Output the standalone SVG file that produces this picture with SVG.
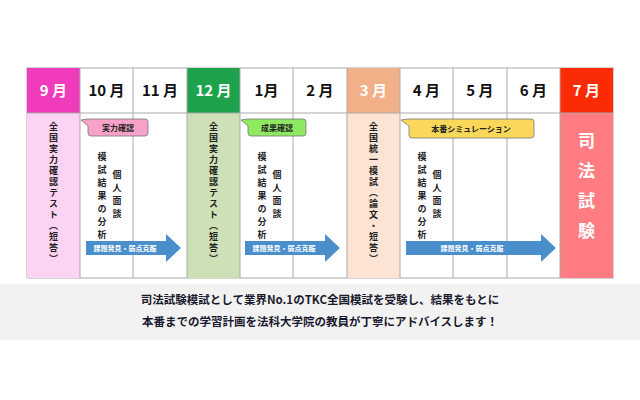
<svg xmlns="http://www.w3.org/2000/svg" width="640" height="400" viewBox="0 0 640 400">
<style>
text{font-family:"Noto Sans CJK JP","Noto Sans",sans-serif;font-weight:bold}
.h{font-size:15px;fill:#111;text-anchor:middle}
.hw{font-size:15px;fill:#fff;text-anchor:middle}
.v{font-size:9px;fill:#222;writing-mode:vertical-rl;text-orientation:upright;letter-spacing:2px}
.v2{font-size:9px;fill:#222;writing-mode:vertical-rl;text-orientation:upright;letter-spacing:4px}
.c{font-size:8px;fill:#222;text-anchor:middle}
.a{font-size:7px;fill:#fff;text-anchor:middle}
.line{stroke:#aaa;stroke-width:1}
.arrow{fill:#4a8fcc}
</style>
<rect width="640" height="400" fill="#fff"/>
<g id="columns">
<rect x="27" y="68" width="586" height="210" fill="#fff" stroke="#aaa"/>
<rect x="27" y="68" width="53" height="45" fill="#f03cbc"/><rect x="27" y="113" width="53" height="165" fill="#fdd3f4"/>
<rect x="187" y="68" width="53" height="45" fill="#1ea24c"/><rect x="187" y="113" width="53" height="165" fill="#cde0b6"/>
<rect x="347" y="68" width="53" height="45" fill="#f2b088"/><rect x="347" y="113" width="53" height="165" fill="#fde3d4"/>
<rect x="560" y="68" width="53" height="45" fill="#fb2b05"/><rect x="560" y="113" width="53" height="165" fill="#fe7c82"/>
<g class="line">
<line x1="27" y1="113" x2="613" y2="113"/>
<line x1="80" y1="68" x2="80" y2="278"/><line x1="133" y1="68" x2="133" y2="278"/><line x1="187" y1="68" x2="187" y2="278"/>
<line x1="240" y1="68" x2="240" y2="278"/><line x1="293" y1="68" x2="293" y2="278"/><line x1="347" y1="68" x2="347" y2="278"/>
<line x1="400" y1="68" x2="400" y2="278"/><line x1="453" y1="68" x2="453" y2="278"/><line x1="507" y1="68" x2="507" y2="278"/>
<line x1="560" y1="68" x2="560" y2="278"/>
</g>
<text class="hw" x="53.5" y="96">9 月</text>
<text class="h" x="106.5" y="96">10 月</text>
<text class="h" x="160" y="96">11 月</text>
<text class="hw" x="213.5" y="96">12 月</text>
<text class="h" x="266.5" y="96">1月</text>
<text class="h" x="320" y="96">2 月</text>
<text class="hw" x="373.5" y="96">3 月</text>
<text class="h" x="426.5" y="96">4 月</text>
<text class="h" x="480" y="96">5 月</text>
<text class="h" x="533.5" y="96">6 月</text>
<text class="hw" x="586.5" y="96">7 月</text>
</g>
<g id="tests">
<text class="v" x="53.5" y="122">全国実力確認テスト（短答）</text>
<text class="v" x="213.5" y="122">全国実力確認テスト（短答）</text>
<text class="v" x="373.5" y="122">全国統一模試（論文・短答）</text>
<text x="586.5" y="132" style="font-size:17px;fill:#fff;writing-mode:vertical-rl;text-orientation:upright;letter-spacing:13px">司法試験</text>
</g>
<g id="callouts">
<path d="M87 119 H145 a3 3 0 0 1 3 3 V133 a3 3 0 0 1 -3 3 H91 a3 3 0 0 1 -3 -3 V126 L81 120 Z" fill="#f7a2c8" stroke="#777" stroke-width="0.8"/>
<text class="c" x="118" y="131">実力確認</text>
<path d="M247 119 H303 a3 3 0 0 1 3 3 V133 a3 3 0 0 1 -3 3 H251 a3 3 0 0 1 -3 -3 V126 L241 120 Z" fill="#8ee860" stroke="#777" stroke-width="0.8"/>
<text class="c" x="277" y="131">成果確認</text>
<path d="M408 119 H531 a3 3 0 0 1 3 3 V135 a3 3 0 0 1 -3 3 H412 a3 3 0 0 1 -3 -3 V126 L401 120 Z" fill="#fbd85a" stroke="#777" stroke-width="0.8"/>
<text class="c" x="471" y="132">本番シミュレーション</text>
</g>
<g id="analysis">
<text class="v2" x="102" y="152">模試結果の分析</text><text class="v2" x="117" y="170">個人面談</text>
<text class="v2" x="262" y="152">模試結果の分析</text><text class="v2" x="277" y="170">個人面談</text>
<text class="v2" x="422" y="152">模試結果の分析</text><text class="v2" x="437" y="170">個人面談</text>
</g>
<g id="connectors">
<path class="arrow" d="M86 241 H166 V234 L181 248 L166 262 V255 H86 Z"/>
<text class="a" x="125" y="251">課題発見・弱点克服</text>
<path class="arrow" d="M245 241 H325 V234 L340 248 L325 262 V255 H245 Z"/>
<text class="a" x="284" y="251">課題発見・弱点克服</text>
<path class="arrow" d="M406 241 H541 V234 L556 248 L541 262 V255 H406 Z"/>
<text class="a" x="472" y="251">課題発見・弱点克服</text>
</g>
<g id="footer">
<rect x="0" y="284" width="640" height="56" fill="#f2f2f2"/>
<text x="320" y="304" style="font-size:11.5px;fill:#1a1a2e;text-anchor:middle">司法試験模試として業界No.1のTKC全国模試を受験し、結果をもとに</text>
<text x="320" y="326" style="font-size:11.5px;fill:#1a1a2e;text-anchor:middle">本番までの学習計画を法科大学院の教員が丁寧にアドバイスします！</text>
</g>
</svg>
